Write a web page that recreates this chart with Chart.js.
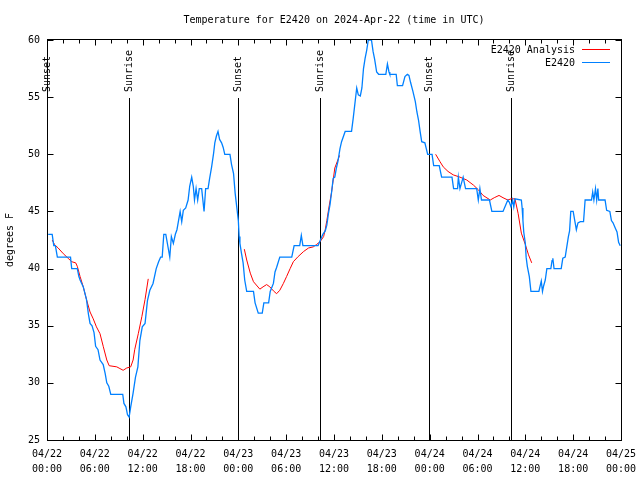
<!DOCTYPE html>
<html>
<head>
<meta charset="utf-8">
<script src="https://cdn.jsdelivr.net/npm/chart.js@4.4.1/dist/chart.umd.min.js"></script>
<style>
  html, body { margin: 0; padding: 0; background: #fff; }
  canvas { display: block; }
</style>
</head>
<body>
<canvas id="tempChart" width="640" height="480"></canvas>
<script>
// hours since 2024-04-22 00:00 UTC
const obsHours = [
    0.15, 0.65, 0.85, 1.05, 1.3, 1.4, 2.95, 3.1, 3.8, 4.0, 4.15, 4.55, 4.95, 5.2, 5.4, 5.65, 5.9, 6.1, 6.4, 6.65,
    7.05, 7.3, 7.5, 7.75, 8.0, 9.5, 9.65, 9.9, 10.1, 10.3, 10.5, 10.8, 11.1, 11.4, 11.65, 11.95, 12.3, 12.6, 12.9, 13.3,
    13.7, 14.0, 14.25, 14.45, 14.65, 14.9, 15.2, 15.4, 15.6, 15.85, 16.1, 16.3, 16.5, 16.7, 16.9, 17.1, 17.4, 17.7, 17.9, 18.15,
    18.35, 18.5, 18.7, 18.9, 19.1, 19.4, 19.55, 19.7, 19.9, 20.2, 20.4, 20.65, 20.9, 21.05, 21.25, 21.45, 21.65, 21.9, 22.1, 22.3,
    22.95, 23.15, 23.4, 23.6, 23.8, 24.0, 24.1, 24.2, 24.4, 24.6, 24.8, 25.05, 25.9, 26.1, 26.5, 27.0, 27.2, 27.8, 28.0, 28.4,
    28.6, 28.8, 29.2, 30.7, 31.0, 31.7, 31.9, 32.1, 34.0, 34.3, 34.6, 34.9, 35.1, 35.3, 35.5, 35.7, 35.9, 36.1, 36.3, 36.5,
    36.75, 36.95, 37.4, 38.2, 38.4, 38.6, 38.85, 39.05, 39.3, 39.5, 39.7, 39.9, 40.1, 40.3, 40.7, 40.9, 41.1, 41.35, 41.6, 42.5,
    42.7, 42.9, 43.0, 43.8, 43.95, 44.6, 44.9, 45.2, 45.4, 45.6, 45.9, 46.2, 46.4, 46.6, 46.8, 47.0, 47.4, 47.75, 48.3, 48.5,
    49.2, 49.5, 50.8, 51.0, 51.5, 51.6, 51.8, 52.2, 52.5, 53.9, 54.1, 54.3, 54.5, 55.5, 55.8, 57.2, 57.5, 57.8, 58.0, 58.2,
    58.4, 58.55, 58.7, 59.5, 59.6, 59.7, 59.8, 60.0, 60.1, 60.25, 60.5, 60.7, 61.7, 62.0, 62.15, 62.3, 62.5, 62.7, 63.2, 63.35,
    63.45, 63.6, 64.5, 64.7, 65.0, 65.2, 65.4, 65.55, 65.7, 66.0, 66.2, 66.4, 66.6, 66.9, 67.3, 67.5, 68.3, 68.45, 68.6, 68.8,
    68.95, 69.1, 69.2, 70.0, 70.2, 70.6, 70.8, 71.0, 71.25, 71.5, 71.7, 71.9
];
const obsTemps = [
    43, 43, 42, 42, 41, 41, 41, 40, 40, 39.3, 39, 38.4, 37.3, 36, 35.2, 35, 34.4, 33.2, 32.9, 32,
    31.6, 30.8, 30, 29.7, 29, 29, 28.2, 27.9, 27.2, 27, 27.9, 29.1, 30.5, 31.4, 33.7, 34.9, 35.2, 37.2, 38.1, 38.7,
    40, 40.6, 41, 41, 43, 43, 41.8, 41, 42.8, 42.2, 43, 43.4, 44.2, 45, 44.1, 45.1, 45.3, 46, 47.2, 48,
    47.2, 46, 47, 46, 47, 47, 46, 45, 47, 47, 47.9, 48.9, 50.1, 51, 51.6, 52, 51.3, 51, 50.6, 50,
    50, 49.1, 48.3, 46.6, 45.4, 44.2, 42.8, 42.2, 41.3, 40.5, 39, 38, 38, 37, 36.1, 36.1, 37, 37, 38, 38.7,
    39.7, 40.1, 41, 41, 42, 42, 42.9, 42, 42, 42.5, 43, 43.3, 43.8, 44.8, 45.6, 46.7, 47.9, 48, 48.8, 49.4,
    50.5, 51.1, 52, 52, 53.1, 54.3, 55.8, 55.2, 55.1, 55.8, 57.5, 58.4, 59.1, 60, 60, 59, 58.3, 57.2, 57, 57,
    57.9, 57.2, 57, 57, 56, 56, 56.8, 57, 56.9, 56.3, 55.5, 54.6, 53.7, 53, 52, 51.1, 51, 50, 50, 49,
    49, 48, 48, 47, 47, 48, 47, 48, 47, 47, 46, 47, 46, 46, 45, 45, 45.5, 46, 45.8, 45.4,
    46, 45.4, 46.1, 46, 45.3, 44.2, 43.2, 42.2, 41, 40.2, 39.3, 38, 38, 38.9, 38, 38.5, 39, 40, 40, 40.7,
    40.9, 40, 40, 40.9, 41, 41.9, 42.8, 43.3, 45, 45, 44.2, 43.4, 44, 44.1, 44.1, 46, 46, 46.7, 46, 47,
    46, 47, 46, 46, 45.1, 45, 44.2, 44, 43.6, 43.2, 42.3, 42
];

// analysis runs, null breaks the line between runs
const anaHours = [
    0.65, 0.95, 1.4, 2.05, 2.65, 3.1, 3.6, 3.8, 4.15, 4.55, 4.95, 5.4, 5.8, 6.2, 6.65, 7.05, 7.5, 7.8, 8.75, 9.15,
    9.55, 10.0, 10.5, 10.8, 11.0, 11.45, 11.9, 12.3, 12.7,
    18.0,
    24.75, 25.05, 25.5, 25.9, 26.7, 27.1, 27.55, 27.95, 28.4, 28.8, 29.2, 29.65, 30.05, 30.5, 30.9, 31.5, 32.2, 32.8, 33.4, 33.8,
    34.25, 34.7, 34.9, 35.1, 35.4, 35.7, 36.1, 36.7,
    42.0,
    48.75, 49.3, 49.7, 50.3, 50.95, 51.8, 52.65, 53.5, 54.1, 54.7, 55.6, 56.1, 56.7, 57.2, 57.8, 58.2, 58.7, 59.1, 59.5, 60.0,
    60.4, 60.8
];
const anaTemps = [
    42.5, 42.1, 41.8, 41.3, 40.9, 40.6, 40.5, 40.2, 39.3, 38.4, 37.3, 36.2, 35.6, 34.9, 34.3, 33.2, 32, 31.5, 31.4, 31.25,
    31.1, 31.3, 31.4, 32, 32.9, 34.3, 35.8, 37.3, 39.1,
    null,
    41.7, 40.75, 39.6, 38.85, 38.2, 38.4, 38.6, 38.4, 38.05, 37.8, 38.1, 38.7, 39.3, 40, 40.6, 41.05, 41.5, 41.8, 41.9, 42.1,
    42.35, 42.8, 43.4, 44.2, 45.5, 46.7, 48.8, 49.9,
    null,
    50, 49.35, 48.9, 48.5, 48.2, 48, 47.75, 47.3, 46.9, 46.4, 46, 46.2, 46.4, 46.2, 46, 46.1, 46.1, 44.8, 43.1, 42.1,
    41.2, 40.5
];

const sunHours = [0.0, 10.33, 24.0, 34.3, 47.95, 58.25];
const sunLabels = ['Sunset', 'Sunrise', 'Sunset', 'Sunrise', 'Sunset', 'Sunrise'];

const xTickDates = ['04/22', '04/22', '04/22', '04/22', '04/23', '04/23', '04/23', '04/23', '04/24', '04/24', '04/24', '04/24', '04/25'];
const xTickTimes = ['00:00', '06:00', '12:00', '18:00', '00:00', '06:00', '12:00', '18:00', '00:00', '06:00', '12:00', '18:00', '00:00'];

const seriesNames = ['E2420 Analysis', 'E2420'];
const seriesColors = ['#ff0000', '#0080ff'];
const chartTitle = 'Temperature for E2420 on 2024-Apr-22 (time in UTC)';
const yTitle = 'degrees F';

const FONT = '10px "DejaVu Sans Mono", monospace';

const toPoints = (xs, ys) => xs.map((x, i) => ({ x: x, y: ys[i] }));

const gnuplotFrame = {
    id: 'gnuplotFrame',
    beforeDatasetsDraw(chart) {
        const ctx = chart.ctx;
        const xs = chart.scales.x;
        const a = chart.chartArea;
        ctx.save();
        ctx.strokeStyle = '#000';
        ctx.lineWidth = 1;
        ctx.fillStyle = '#000';
        ctx.font = FONT;
        sunHours.forEach((h, i) => {
            const px = Math.round(xs.getPixelForValue(h)) + 0.5;
            ctx.beginPath();
            ctx.moveTo(px, a.top + 58);
            ctx.lineTo(px, a.bottom);
            ctx.stroke();
            ctx.save();
            ctx.translate(px, a.top + 52);
            ctx.rotate(-Math.PI / 2);
            ctx.textAlign = 'left';
            ctx.textBaseline = 'middle';
            ctx.fillText(sunLabels[i], 0, 0);
            ctx.restore();
        });
        ctx.restore();
    },
    afterDraw(chart) {
        const ctx = chart.ctx;
        const xs = chart.scales.x;
        const ys = chart.scales.y;
        const a = chart.chartArea;
        const L = Math.round(a.left) + 0.5, R = Math.round(a.right) + 0.5;
        const T = Math.round(a.top) - 0.5, B = Math.round(a.bottom) + 0.5;
        ctx.save();
        ctx.strokeStyle = '#000';
        ctx.lineWidth = 1;
        ctx.strokeRect(L, T, R - L, B - T);

        // inward ticks, mirrored
        ctx.beginPath();
        for (let h = 0; h <= 72; h += 2) {
            const px = Math.round(xs.getPixelForValue(h)) + 0.5;
            const len = h % 6 === 0 ? 6 : 4;
            ctx.moveTo(px, B); ctx.lineTo(px, B - len);
            ctx.moveTo(px, T); ctx.lineTo(px, T + len);
        }
        for (let v = 25; v <= 60; v += 5) {
            const py = Math.round(ys.getPixelForValue(v)) + 0.5;
            ctx.moveTo(L, py); ctx.lineTo(L + 6, py);
            ctx.moveTo(R, py); ctx.lineTo(R - 6, py);
        }
        ctx.stroke();

        ctx.fillStyle = '#000';
        ctx.font = FONT;
        ctx.textBaseline = 'middle';

        // title
        ctx.textAlign = 'center';
        ctx.fillText(chartTitle, (a.left + a.right) / 2, 20);

        // y title
        ctx.save();
        ctx.translate(10, (a.top + a.bottom) / 2);
        ctx.rotate(-Math.PI / 2);
        ctx.fillText(yTitle, 0, 0);
        ctx.restore();

        // key
        ctx.textAlign = 'right';
        seriesNames.forEach((name, i) => {
            const y = 50 + i * 13;
            ctx.fillText(name, 575, y);
            ctx.strokeStyle = seriesColors[i];
            ctx.beginPath();
            ctx.moveTo(582, y - 0.5);
            ctx.lineTo(610, y - 0.5);
            ctx.stroke();
        });
        ctx.restore();
    }
};

const ctx = document.getElementById('tempChart').getContext('2d');
new Chart(ctx, {
    type: 'line',
    data: {
        datasets: [{
            label: seriesNames[1],
            data: toPoints(obsHours, obsTemps),
            borderColor: seriesColors[1],
            borderWidth: 1.3,
            pointRadius: 0,
            tension: 0,
            order: 0
        }, {
            label: seriesNames[0],
            data: toPoints(anaHours, anaTemps),
            borderColor: seriesColors[0],
            borderWidth: 1,
            pointRadius: 0,
            tension: 0,
            spanGaps: false,
            order: 1
        }]
    },
    options: {
        responsive: false,
        animation: false,
        devicePixelRatio: 1,
        layout: { padding: { left: 0, right: 19, top: 40, bottom: 0 } },
        plugins: {
            legend: { display: false },
            tooltip: { enabled: false }
        },
        scales: {
            x: {
                type: 'linear',
                min: 0,
                max: 72,
                afterFit: s => {
                    s.height = 40;
                    s.paddingLeft = 0;
                    s.paddingRight = 0;
                },
                grid: { drawOnChartArea: false, drawTicks: false },
                border: { display: false },
                ticks: {
                    stepSize: 6,
                    autoSkip: false,
                    maxRotation: 0,
                    padding: 7,
                    color: '#000',
                    font: { family: '"DejaVu Sans Mono", monospace', size: 10, lineHeight: 1.5 },
                    callback: value => {
                        const i = Math.round(value / 6);
                        return [xTickDates[i], xTickTimes[i]];
                    }
                }
            },
            y: {
                min: 25,
                max: 60,
                afterFit: s => { s.width = 47; },
                grid: { drawOnChartArea: false, drawTicks: false },
                border: { display: false },
                ticks: {
                    stepSize: 5,
                    padding: 7,
                    color: '#000',
                    font: { family: '"DejaVu Sans Mono", monospace', size: 10 }
                }
            }
        }
    },
    plugins: [gnuplotFrame]
});
</script>
</body>
</html>
